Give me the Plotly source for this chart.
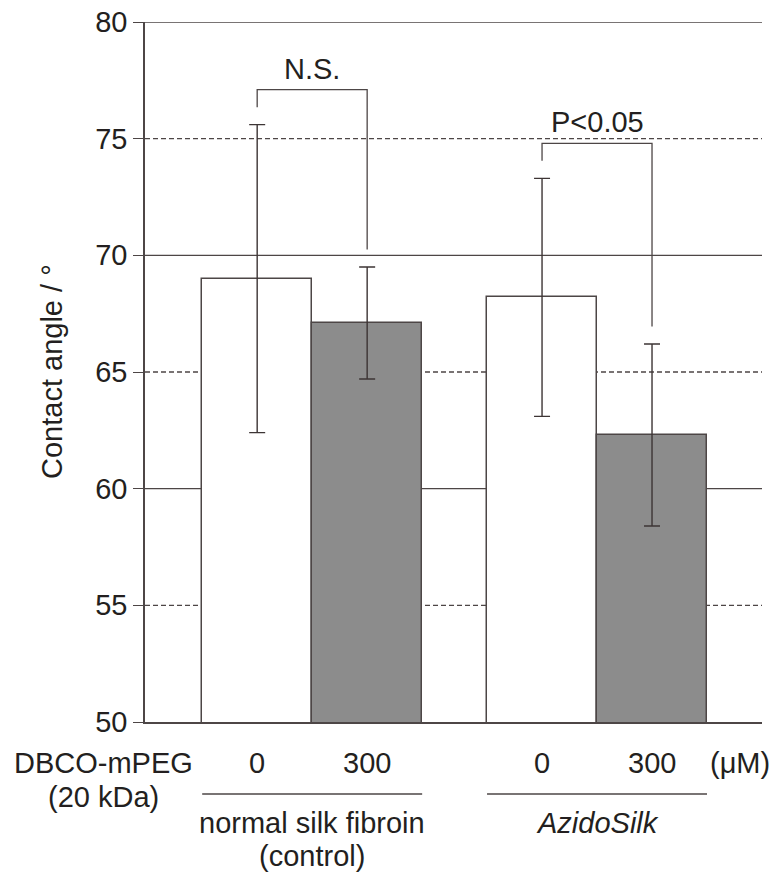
import plotly.graph_objects as go

# ---- data ----
groups = [["normal silk fibroin", "(control)"], ["<i>AzidoSilk</i>"]]
doses = ["0", "300"]
means = [[69.0, 67.1], [68.2, 62.3]]
sds = [[6.6, 2.4], [5.1, 3.9]]
sig_labels = ["N.S.", "P<0.05"]
bracket_levels = [77.1, 74.8]
y_ticks = [50, 55, 60, 65, 70, 75, 80]
dashed_ticks = [55, 65, 75]
row_title = ["DBCO-mPEG", "(20 kDa)"]
unit_label = "(μM)"
y_title = "Contact angle / °"

# ---- style ----
FONT = "Arial, 'Liberation Sans', Helvetica, sans-serif"
TXT = "#231f20"
LN = "#4d4646"
FS = 29
fills = ["#ffffff", "#8c8c8c"]
group_gap = 0.59

def xpos(g, d):
    return g * (2 + group_gap) + d

def tfont():
    return dict(size=FS, color=TXT, family=FONT)

fig = go.Figure()
for d in range(len(doses)):
    fig.add_trace(go.Bar(
        x=[xpos(g, d) for g in range(len(groups))],
        y=[means[g][d] for g in range(len(groups))],
        width=1.0,
        marker=dict(color=fills[d], line=dict(color=LN, width=1.5)),
        error_y=dict(type="data", array=[sds[g][d] for g in range(len(groups))],
                     visible=True, color="#3d3535", thickness=1.4, width=8),
        showlegend=False,
    ))

shapes = []
for t in y_ticks[1:]:
    shapes.append(dict(type="line", xref="paper", yref="y", x0=0, x1=1, y0=t, y1=t,
                       layer="below",
                       line=dict(color=LN, width=1.3,
                                 dash="5px,3px" if t in dashed_ticks else "solid")))

annotations = []
leg_gap = 0.75
for g in range(len(groups)):
    xl, xr = xpos(g, 0), xpos(g, 1)
    yb = bracket_levels[g]
    yl = means[g][0] + sds[g][0] + leg_gap
    yr = means[g][1] + sds[g][1] + leg_gap
    shapes.append(dict(type="path", xref="x", yref="y",
                       path=f"M {xl},{yl} L {xl},{yb} L {xr},{yb} L {xr},{yr}",
                       line=dict(color=LN, width=1.3)))
    annotations.append(dict(x=(xl + xr) / 2, y=yb, xref="x", yref="y", text=sig_labels[g],
                            showarrow=False, yanchor="bottom", yshift=3, font=tfont()))
    for d in range(len(doses)):
        annotations.append(dict(x=xpos(g, d), y=0, xref="x", yref="paper", text=doses[d],
                                showarrow=False, yanchor="middle", yshift=-41, font=tfont()))
    shapes.append(dict(type="line", xref="x", yref="paper", ysizemode="pixel", yanchor=0,
                       x0=xl - 0.5, x1=xr + 0.5, y0=-72, y1=-72,
                       line=dict(color=LN, width=1.3)))
    for i, line in enumerate(groups[g]):
        annotations.append(dict(x=(xl + xr) / 2, y=0, xref="x", yref="paper", text=line,
                                showarrow=False, yanchor="middle", yshift=-101 - 33 * i,
                                font=tfont()))

for i, line in enumerate(row_title):
    annotations.append(dict(x=0, y=0, xref="paper", yref="paper", text=line,
                            showarrow=False, xanchor="center", yanchor="middle",
                            xshift=-42, yshift=-41 - 34 * i, font=tfont()))

annotations += [
    dict(x=1, y=0, xref="paper", yref="paper", text=unit_label,
         showarrow=False, xanchor="center", yanchor="middle", xshift=-22, yshift=-41,
         font=tfont()),
    dict(x=0, y=0.5, xref="paper", yref="paper", text=y_title,
         showarrow=False, textangle=-90, xanchor="center", yanchor="middle", xshift=-93,
         font=tfont()),
]

fig.update_layout(
    width=776, height=875,
    margin=dict(l=145, r=14, t=22, b=153, autoexpand=False),
    paper_bgcolor="white", plot_bgcolor="white",
    shapes=shapes, annotations=annotations,
    bargap=0,
    xaxis=dict(range=[-1.02, 4.59], showgrid=False, zeroline=False, showline=True,
               automargin=False,
               linecolor=LN, linewidth=1.5, showticklabels=False, ticks=""),
    yaxis=dict(range=[50, 80], tickvals=y_ticks, showgrid=False, zeroline=False,
               automargin=False,
               showline=True, linecolor=LN, linewidth=1.5, ticks="outside", ticklen=10,
               tickwidth=1.3, tickcolor=LN, tickfont=tfont()),
)

fig.write_html("out.html", config={"displayModeBar": False},
               post_script="document.body.style.margin='0';document.body.style.overflow='hidden';")
